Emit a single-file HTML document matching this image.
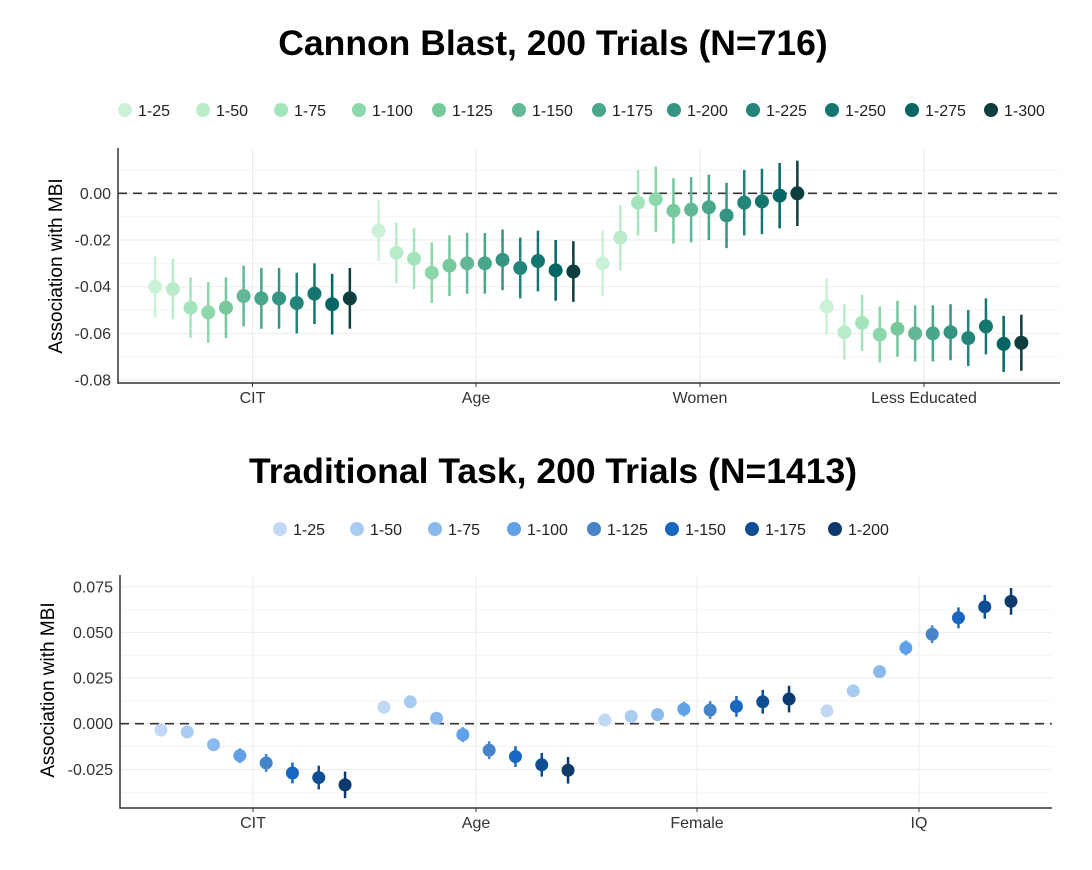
<!DOCTYPE html>
<html><head><meta charset="utf-8"><style>
body{margin:0;background:#fff;}
svg{display:block;font-family:"Liberation Sans",Arial,sans-serif;}
</style></head><body>
<svg id="s" width="1092" height="870" xmlns="http://www.w3.org/2000/svg"></svg>
<script>
const s=document.getElementById('s');let h='';
const T=(x,y,t,o)=>{h+=`<text x="${x}" y="${y}" ${o||''}>${t}</text>`;};
// titles
T(553,55,'Cannon Blast, 200 Trials (N=716)','text-anchor="middle" font-size="35.5" font-weight="bold" fill="#000"');
T(553,483,'Traditional Task, 200 Trials (N=1413)','text-anchor="middle" font-size="35.5" font-weight="bold" fill="#000"');
function panel(o){
 const {x0,x1,yt,yb,y0,ppu,ticks,minor,cats,cx,dx,data,err,cols,r,sw}=o;
 const Y=v=>y0-v*ppu;
 minor.forEach(v=>h+=`<line x1="${x0}" x2="${x1}" y1="${Y(v)}" y2="${Y(v)}" stroke="#f4f4f4" stroke-width="1"/>`);
 ticks.forEach(t=>{h+=`<line x1="${x0}" x2="${x1}" y1="${Y(t[0])}" y2="${Y(t[0])}" stroke="#ebebeb" stroke-width="1"/>`;
  T(x0-7,Y(t[0])+5.5,t[1],'text-anchor="end" font-size="16" fill="#333"');});
 cx.forEach((c,i)=>{h+=`<line x1="${c}" x2="${c}" y1="${yt}" y2="${yb}" stroke="#ebebeb"/>`;
  h+=`<line x1="${c}" x2="${c}" y1="${yb}" y2="${yb+4}" stroke="#333"/>`;
  T(c,yb+20,cats[i],'text-anchor="middle" font-size="16" fill="#333"');});
 h+=`<line x1="${x0}" x2="${x1}" y1="${Y(0)}" y2="${Y(0)}" stroke="#333" stroke-width="1.6" stroke-dasharray="9,6"/>`;
 const n=cols.length;
 data.forEach((arr,ci)=>arr.forEach((v,k)=>{
  const x=cx[ci]+(k-(n-1)/2)*dx;const e=err[ci][k];
  h+=`<line x1="${x}" x2="${x}" y1="${Y(v+e)}" y2="${Y(v-e)}" stroke="${cols[k]}" stroke-width="${sw}"/>`;
  h+=`<circle cx="${x}" cy="${Y(v)}" r="${r}" fill="${cols[k]}"/>`;}));
 h+=`<path d="M${x0} ${yt-2}V${yb}H${x1}" fill="none" stroke="#333" stroke-width="1.5"/>`;
}
const G=['#cbf1d8','#baecca','#a3e5bb','#8cd8aa','#77c99c','#62b795','#48a68a','#369482','#22847a','#14776f','#046663','#0e3e3d'];
const B=['#c2d9f5','#a8ccf2','#8ab9ee','#5fa0e8','#4683c8','#1766bf','#0f4e93','#0c3a6c'];
const topD=[[-0.040,-0.041,-0.049,-0.051,-0.049,-0.044,-0.045,-0.045,-0.047,-0.043,-0.0475,-0.045],
[-0.016,-0.0255,-0.028,-0.034,-0.031,-0.030,-0.030,-0.0285,-0.032,-0.029,-0.033,-0.0335],
[-0.030,-0.019,-0.004,-0.0025,-0.0075,-0.007,-0.006,-0.0095,-0.004,-0.0035,-0.001,0.000],
[-0.0485,-0.0595,-0.0555,-0.0605,-0.058,-0.060,-0.060,-0.0595,-0.062,-0.057,-0.0645,-0.064]];
const tE=topD.map((a,i)=>a.map(()=>[0.013,0.013,0.014,0.012][i]));
panel({x0:118,x1:1060,yt:150,yb:383,y0:193.3,ppu:2335,
 ticks:[[0,'0.00'],[-0.02,'-0.02'],[-0.04,'-0.04'],[-0.06,'-0.06'],[-0.08,'-0.08']],
 minor:[0.01,-0.01,-0.03,-0.05,-0.07],cats:['CIT','Age','Women','Less Educated'],cx:[252.5,476,700,924],dx:17.7,
 data:topD,err:tE,cols:G,r:7,sw:2.5});
const botD=[[-0.0035,-0.0045,-0.0115,-0.0175,-0.0215,-0.027,-0.0295,-0.0335],
[0.009,0.012,0.003,-0.006,-0.0145,-0.018,-0.0225,-0.0255],
[0.002,0.004,0.005,0.008,0.0075,0.0095,0.012,0.0135],
[0.007,0.018,0.0285,0.0415,0.049,0.058,0.064,0.067]];
const bE=botD.map(a=>a.map((v,k)=>0.0017+k*0.0008));
panel({x0:120,x1:1052,yt:577,yb:808,y0:723.7,ppu:1826,
 ticks:[[0.075,'0.075'],[0.05,'0.050'],[0.025,'0.025'],[0,'0.000'],[-0.025,'-0.025']],
 minor:[0.0625,0.0375,0.0125,-0.0125,-0.0375],cats:['CIT','Age','Female','IQ'],cx:[253,476,697,919],dx:26.3,
 data:botD,err:bE,cols:B,r:6.5,sw:2.5});
// y labels
T(0,0,'Association with MBI','transform="translate(62,266) rotate(-90)" text-anchor="middle" font-size="19" fill="#000"');
T(0,0,'Association with MBI','transform="translate(54,690) rotate(-90)" text-anchor="middle" font-size="19" fill="#000"');
// legends
const tl=[138,216,294,372,452,532,612,687,766,845,925,1004];
tl.forEach((x,i)=>{h+=`<circle cx="${x-13}" cy="110" r="7" fill="${G[i]}"/>`;T(x,116,'1-'+(25*(i+1)),'font-size="16" fill="#222"');});
const bl=[293,370,448,527,607,685,765,848];
bl.forEach((x,i)=>{h+=`<circle cx="${x-13}" cy="529" r="7" fill="${B[i]}"/>`;T(x,535,'1-'+(25*(i+1)),'font-size="16" fill="#222"');});
s.innerHTML=h;
</script>
</body></html>
